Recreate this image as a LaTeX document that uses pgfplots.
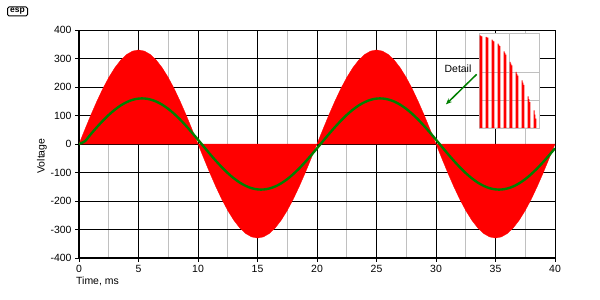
\documentclass[border=0pt]{standalone}
\usepackage{fontspec}
\setmainfont{Liberation Sans}
\usepackage{pgfplots}
\pgfplotsset{compat=1.18}
\usetikzlibrary{arrows.meta}
\definecolor{espgreen}{RGB}{0,128,0}
\definecolor{gridgray}{RGB}{192,192,192}
\begin{document}
\begin{tikzpicture}
\path[use as bounding box] (0,0) rectangle (600bp,300bp);
\node[draw, rounded corners=1.5bp, line width=1bp, minimum width=20bp, minimum height=9bp, inner sep=0pt, font=\fontsize{8.5}{8.5}\selectfont\bfseries] at (17.5bp,288.5bp) {esp};
\node[rotate=90, font=\fontsize{10.5}{12}\selectfont] at (42bp,144bp) {Voltage};
\node[anchor=west, font=\fontsize{10.5}{12}\selectfont, inner sep=0pt] at (76bp,19bp) {Time, ms};
\begin{axis}[
  at={(79bp,42bp)}, anchor=south west,
  scale only axis, width=476bp, height=228bp,
  xmin=0, xmax=40, ymin=-400, ymax=400,
  xtick={0,5,...,40}, minor xtick={2.5,7.5,...,37.5},
  ytick={-400,-300,...,400},
  axis lines=left,
  axis line style={-, line width=1.6bp, black},
  grid=both,
  major grid style={black, line width=0.8bp},
  minor grid style={gridgray, line width=0.8bp},
  tick align=outside,
  major tick length=4bp, minor tick length=0pt,
  tick style={black, line width=0.8bp},
  every tick label/.append style={font=\fontsize{10.5}{12}\selectfont},
  /pgf/number format/assume math mode=true,
  clip=true,
]
\addplot[draw=red, line width=0.3bp, fill=red] coordinates {
(0,0)(0.5,51.6)(1,102.0)(1.5,149.8)(2,194.0)(2.5,233.3)(3,267.0)(3.5,294.0)(4,313.9)(4.5,325.9)
(5,330)(5.5,325.9)(6,313.9)(6.5,294.0)(7,267.0)(7.5,233.3)(8,194.0)(8.5,149.8)(9,102.0)(9.5,51.6)
(10,0)(10.5,-51.6)(11,-102.0)(11.5,-149.8)(12,-194.0)(12.5,-233.3)(13,-267.0)(13.5,-294.0)(14,-313.9)(14.5,-325.9)
(15,-330)(15.5,-325.9)(16,-313.9)(16.5,-294.0)(17,-267.0)(17.5,-233.3)(18,-194.0)(18.5,-149.8)(19,-102.0)(19.5,-51.6)
(20,0)(20.5,51.6)(21,102.0)(21.5,149.8)(22,194.0)(22.5,233.3)(23,267.0)(23.5,294.0)(24,313.9)(24.5,325.9)
(25,330)(25.5,325.9)(26,313.9)(26.5,294.0)(27,267.0)(27.5,233.3)(28,194.0)(28.5,149.8)(29,102.0)(29.5,51.6)
(30,0)(30.5,-51.6)(31,-102.0)(31.5,-149.8)(32,-194.0)(32.5,-233.3)(33,-267.0)(33.5,-294.0)(34,-313.9)(34.5,-325.9)
(35,-330)(35.5,-325.9)(36,-313.9)(36.5,-294.0)(37,-267.0)(37.5,-233.3)(38,-194.0)(38.5,-149.8)(39,-102.0)(39.5,-51.6)
(40,0)
} \closedcycle;
\addplot[espgreen, line width=2.4bp, smooth] coordinates {
(0,0)(0.5,10.0)(1,34.9)(1.5,58.9)(2,81.4)(2.5,102.0)(3,120.0)(3.5,135.1)(4,146.8)(4.5,155.0)
(5,159.3)(5.5,159.7)(6,156.1)(6.5,148.8)(7,137.7)(7.5,123.3)(8,105.8)(8.5,85.7)(9,63.5)(9.5,39.8)
(10,15.1)(10.5,-10.0)(11,-34.9)(11.5,-58.9)(12,-81.4)(12.5,-102.0)(13,-120.0)(13.5,-135.1)(14,-146.8)(14.5,-155.0)
(15,-159.3)(15.5,-159.7)(16,-156.1)(16.5,-148.8)(17,-137.7)(17.5,-123.3)(18,-105.8)(18.5,-85.7)(19,-63.5)(19.5,-39.8)
(20,-15.1)(20.5,10.0)(21,34.9)(21.5,58.9)(22,81.4)(22.5,102.0)(23,120.0)(23.5,135.1)(24,146.8)(24.5,155.0)
(25,159.3)(25.5,159.7)(26,156.1)(26.5,148.8)(27,137.7)(27.5,123.3)(28,105.8)(28.5,85.7)(29,63.5)(29.5,39.8)
(30,15.1)(30.5,-10.0)(31,-34.9)(31.5,-58.9)(32,-81.4)(32.5,-102.0)(33,-120.0)(33.5,-135.1)(34,-146.8)(34.5,-155.0)
(35,-159.3)(35.5,-159.7)(36,-156.1)(36.5,-148.8)(37,-137.7)(37.5,-123.3)(38,-105.8)(38.5,-85.7)(39,-63.5)(39.5,-39.8)
(40,-15.1)
};
\node[font=\fontsize{10.5}{12}\selectfont, inner sep=0pt] at (axis cs:31.85,265) {Detail};
\draw[espgreen, line width=1.5bp, -{Stealth[length=6bp,width=5bp]}] (axis cs:33.42,244.6) -- (axis cs:30.84,139.3);
\end{axis}
\begin{axis}[
  at={(479bp,172bp)}, anchor=south west,
  scale only axis, width=60bp, height=95bp,
  xmin=0, xmax=10, ymin=0, ymax=1,
  xtick={5}, ytick={0.29,0.59},
  xticklabels={}, yticklabels={},
  major tick length=0pt,
  grid=major,
  major grid style={gridgray, line width=0.8bp},
  axis line style={gridgray, line width=0.8bp},
  axis background/.style={fill=white},
]
\addplot[const plot, draw=none, fill=red] coordinates {
(0.11,0.975)(0.26,0.970)(0.41,0.965)(0.55,0)
(1.11,0.958)(1.26,0.955)(1.41,0.951)(1.55,0)
(2.11,0.930)(2.26,0.921)(2.41,0.912)(2.55,0)
(3.11,0.888)(3.26,0.876)(3.41,0.863)(3.55,0)
(4.11,0.807)(4.26,0.790)(4.41,0.772)(4.55,0)
(5.11,0.695)(5.26,0.678)(5.41,0.660)(5.55,0)
(6.11,0.590)(6.26,0.570)(6.41,0.550)(6.55,0)
(7.11,0.500)(7.26,0.478)(7.41,0.455)(7.55,0)
(8.11,0.333)(8.26,0.303)(8.41,0.273)(8.55,0)
(9.11,0.186)(9.26,0.142)(9.41,0.098)(9.55,0)
} \closedcycle;
\end{axis}
\end{tikzpicture}
\end{document}
